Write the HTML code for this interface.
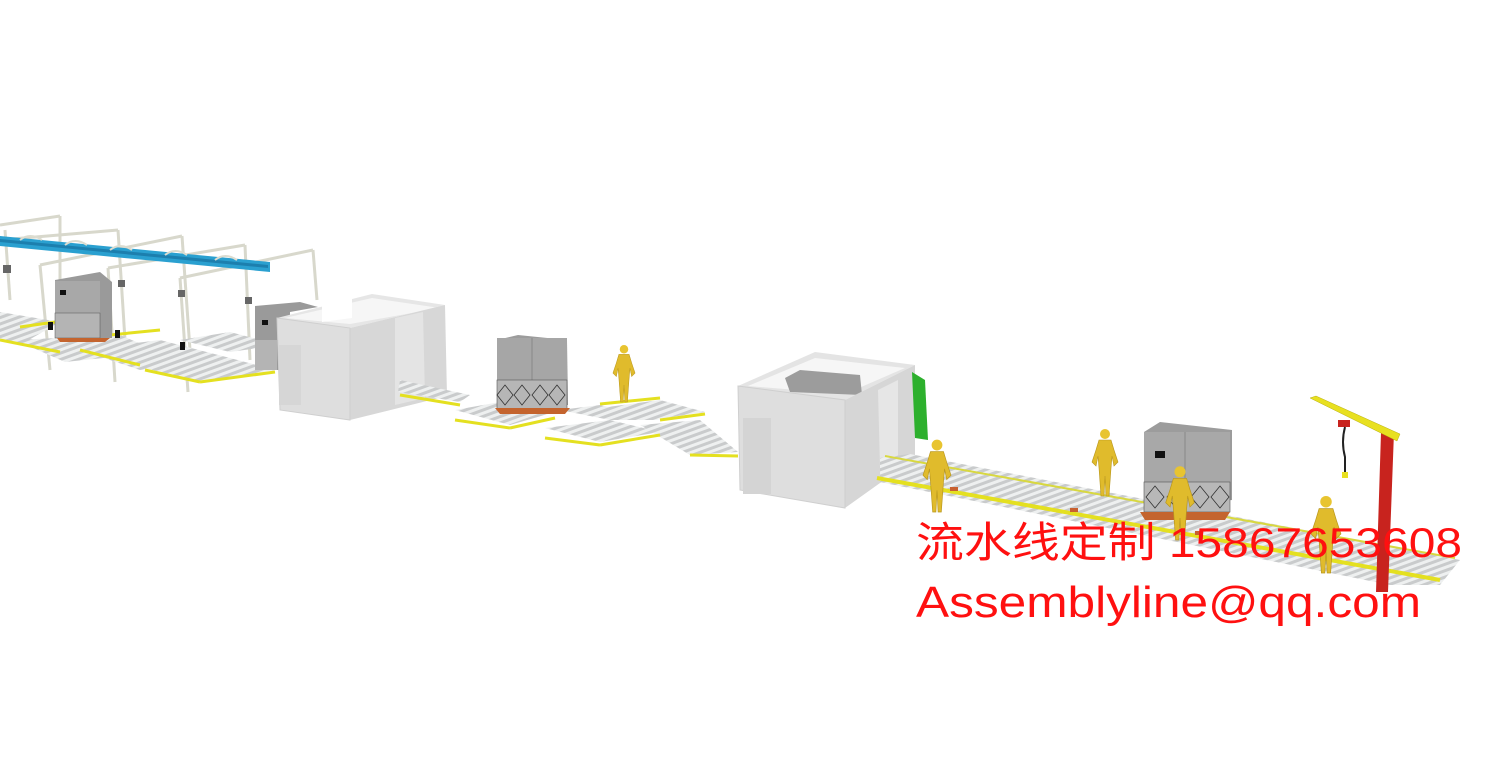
<!DOCTYPE html>
<html><head><meta charset="utf-8"><style>html,body{margin:0;padding:0;background:#fff;}svg{display:block}</style></head>
<body>
<svg width="1500" height="779" viewBox="0 0 1500 779" xmlns="http://www.w3.org/2000/svg">
<defs>
<pattern id="rol" width="6" height="6" patternUnits="userSpaceOnUse" patternTransform="rotate(70)">
<rect width="6" height="6" fill="#c9cbcc"/><rect width="3" height="6" fill="#eef0f0"/></pattern>
<g id="man">
<circle cx="0" cy="-62" r="5" fill="#e8c430"/>
<path d="M-6,-56 L6,-56 L9,-46 L13,-34 L9,-30 L7,-40 L6,-28 L5,-14 L4,0 L1,0 L0,-20 L-1,0 L-4,0 L-5,-14 L-6,-28 L-7,-40 L-9,-30 L-13,-34 L-9,-46 Z" fill="#e0bb2c" stroke="#b8961c" stroke-width="0.6"/>
</g>
</defs>
<rect width="1500" height="779" fill="#fff"/>

<g stroke="#d8d8cc" stroke-width="3" fill="none">
<line x1="0" y1="225" x2="60" y2="216"/><line x1="60" y1="216" x2="60" y2="320"/>
<line x1="0" y1="240" x2="118" y2="230"/><line x1="118" y1="230" x2="125" y2="340"/>
<line x1="40" y1="265" x2="182" y2="236"/><line x1="182" y1="236" x2="190" y2="350"/>
<line x1="108" y1="268" x2="245" y2="245"/><line x1="245" y1="245" x2="250" y2="360"/>
<line x1="180" y1="278" x2="313" y2="250"/><line x1="313" y1="250" x2="317" y2="300"/>
<line x1="40" y1="265" x2="50" y2="370"/><line x1="108" y1="268" x2="115" y2="382"/>
<line x1="180" y1="278" x2="188" y2="392"/><line x1="5" y1="230" x2="10" y2="300"/>
</g>
<polygon points="0,236 270,262 270,272 0,246" fill="#2aa0d0"/>
<polygon points="0,239 268,265 268,268 0,242" fill="#1c7fae"/>
<g fill="none" stroke="#dcdcd0" stroke-width="2">
<path d="M20,240 q10,-8 22,0"/><path d="M65,245 q10,-8 22,0"/><path d="M110,250 q10,-8 22,0"/><path d="M165,255 q10,-8 22,0"/><path d="M215,260 q10,-8 22,0"/>
</g>
<g>
<polygon points="0,312 60,322 20,345 0,340" fill="url(#rol)"/>
<polygon points="15,340 120,335 160,352 65,362" fill="url(#rol)"/>
<polygon points="80,350 160,340 230,358 140,370" fill="url(#rol)"/>
<polygon points="145,368 230,358 275,370 200,382" fill="url(#rol)"/>
<polygon points="180,340 230,332 280,345 230,352" fill="url(#rol)"/>
<g stroke="#e4e020" stroke-width="3">
<line x1="0" y1="340" x2="60" y2="352"/><line x1="80" y1="350" x2="140" y2="365"/>
<line x1="145" y1="370" x2="200" y2="382"/><line x1="200" y1="382" x2="275" y2="372"/>
<line x1="20" y1="327" x2="55" y2="322"/><line x1="110" y1="335" x2="160" y2="330"/>
</g>
</g>
<polygon points="55,280 100,272 112,282 112,338 67,338 55,330" fill="#9a9a9a"/>
<rect x="55" y="281" width="45" height="32" fill="#a8a8a8"/>
<rect x="55" y="313" width="45" height="25" fill="#b4b4b4" stroke="#555" stroke-width="0.5"/>
<rect x="60" y="290" width="6" height="5" fill="#111"/>
<polygon points="57,338 110,338 105,342 60,342" fill="#c4642e"/>
<polygon points="255,306 300,302 318,307 290,312 290,370 255,370" fill="#9a9a9a"/>
<rect x="255" y="340" width="22" height="30" fill="#b4b4b4"/>
<rect x="262" y="320" width="6" height="5" fill="#111"/>
<g fill="#666"><rect x="3" y="265" width="8" height="8"/><rect x="118" y="280" width="7" height="7"/><rect x="178" y="290" width="7" height="7"/><rect x="245" y="297" width="7" height="7"/><rect x="48" y="322" width="5" height="8" fill="#111"/><rect x="115" y="330" width="5" height="8" fill="#111"/><rect x="180" y="342" width="5" height="8" fill="#111"/></g>

<polygon points="277,318 372,294 445,305 350,328" fill="#e6e6e6"/>
<polygon points="285,318 372,298 440,308 350,324" fill="#f6f6f6"/>
<polygon points="322,300 352,295 352,318 322,322" fill="#fff"/>
<polygon points="350,328 445,305 447,396 350,420" fill="#d7d7d7"/>
<polygon points="395,318 423,312 425,398 395,405" fill="#e4e4e4"/>
<polygon points="277,318 350,328 350,420 280,410" fill="#dedede" stroke="#cfcfcf"/>
<rect x="279" y="345" width="22" height="60" fill="#d6d6d6"/>

<polygon points="400,380 470,395 460,402 398,392" fill="url(#rol)"/>
<polygon points="455,410 500,402 555,412 510,425" fill="url(#rol)"/>
<polygon points="545,428 610,420 660,432 600,442" fill="url(#rol)"/>
<polygon points="600,408 660,400 705,412 650,420" fill="url(#rol)"/>
<polygon points="640,425 700,420 738,452 690,455" fill="url(#rol)"/>
<polygon points="560,410 600,405 660,420 610,420" fill="url(#rol)"/>
<g stroke="#e4e020" stroke-width="3">
<line x1="400" y1="395" x2="460" y2="405"/><line x1="455" y1="420" x2="510" y2="428"/>
<line x1="510" y1="428" x2="555" y2="418"/><line x1="545" y1="438" x2="600" y2="445"/>
<line x1="600" y1="445" x2="660" y2="435"/><line x1="600" y1="404" x2="660" y2="398"/>
<line x1="660" y1="420" x2="705" y2="414"/><line x1="690" y1="455" x2="738" y2="456"/>
</g>
<polygon points="497,340 518,335 567,340 568,405 497,405" fill="#9c9c9c"/>
<rect x="497" y="338" width="70" height="42" fill="#a6a6a6"/>
<line x1="532" y1="338" x2="532" y2="380" stroke="#888"/>
<rect x="497" y="380" width="70" height="30" fill="#b6b6b6" stroke="#555" stroke-width="0.6"/>
<path d="M505,385 l8,10 l-8,10 l-8,-10z M522,385 l8,10 l-8,10 l-8,-10z M540,385 l8,10 l-8,10 l-8,-10z M557,385 l8,10 l-8,10 l-8,-10z" fill="none" stroke="#333" stroke-width="0.8"/>
<polygon points="495,408 570,408 565,414 500,414" fill="#c4642e"/>
<use href="#man" transform="translate(624,402) scale(0.85)"/>

<polygon points="738,386 815,352 915,365 845,400" fill="#e4e4e4"/>
<polygon points="748,386 815,358 905,368 845,394" fill="#f6f6f6"/>
<polygon points="785,378 800,370 860,375 862,395 790,392" fill="#9c9c9c"/>
<polygon points="845,400 915,365 915,458 845,508" fill="#d6d6d6"/>
<polygon points="878,390 898,380 898,458 880,468" fill="#e6e6e6"/>
<polygon points="912,372 925,380 928,440 915,438" fill="#2db02d"/>
<polygon points="738,386 845,400 845,508 740,490" fill="#dedede" stroke="#cfcfcf"/>
<rect x="743" y="418" width="28" height="76" fill="#d4d4d4"/>

<polygon points="880,458 910,454 1460,560 1440,585 1390,585 880,482" fill="url(#rol)"/>
<line x1="877" y1="478" x2="1440" y2="580" stroke="#e4e020" stroke-width="4"/>
<line x1="885" y1="456" x2="1455" y2="558" stroke="#d8d840" stroke-width="2"/>
<g fill="#c86030"><rect x="950" y="487" width="8" height="4"/><rect x="1070" y="508" width="8" height="4"/><rect x="1195" y="531" width="8" height="4"/></g>
<polygon points="1144,432 1160,422 1232,430 1232,500 1144,510" fill="#9c9c9c"/>
<rect x="1144" y="432" width="86" height="50" fill="#a8a8a8"/>
<line x1="1185" y1="432" x2="1185" y2="482" stroke="#888"/>
<rect x="1155" y="451" width="10" height="7" fill="#111"/>
<rect x="1144" y="482" width="86" height="30" fill="#b8b8b8" stroke="#555" stroke-width="0.6"/>
<path d="M1155,486 l9,11 l-9,11 l-9,-11z M1176,486 l9,11 l-9,11 l-9,-11z M1200,486 l9,11 l-9,11 l-9,-11z M1220,486 l9,11 l-9,11 l-9,-11z" fill="none" stroke="#333" stroke-width="0.8"/>
<polygon points="1140,512 1230,512 1225,520 1145,520" fill="#c4642e"/>
<use href="#man" transform="translate(937,512) scale(1.08)"/>
<use href="#man" transform="translate(1105,496) scale(1.0)"/>
<use href="#man" transform="translate(1180,540) scale(1.1)"/>
<use href="#man" transform="translate(1326,573) scale(1.15)"/>
<polygon points="1381,432 1394,432 1388,592 1376,592" fill="#c8231e"/>
<polygon points="1310,398 1316,396 1400,434 1397,441" fill="#e8e020" stroke="#b8b010" stroke-width="0.5"/>
<rect x="1338" y="420" width="12" height="7" fill="#c8231e"/>
<path d="M1345,427 q-4,15 0,30 l0,15" stroke="#222" stroke-width="2" fill="none"/>
<rect x="1342" y="472" width="6" height="6" fill="#e8e020"/>

<text x="916" y="557" font-family="'Liberation Sans','Noto Sans CJK SC',sans-serif" font-size="42" fill="#ff1010" textLength="546" lengthAdjust="spacingAndGlyphs">流水线定制 15867653608</text>
<text x="916" y="617" font-family="'Liberation Sans','Noto Sans CJK SC',sans-serif" font-size="44" fill="#ff1010" textLength="505" lengthAdjust="spacingAndGlyphs">Assemblyline@qq.com</text>
</svg>
</body></html>
